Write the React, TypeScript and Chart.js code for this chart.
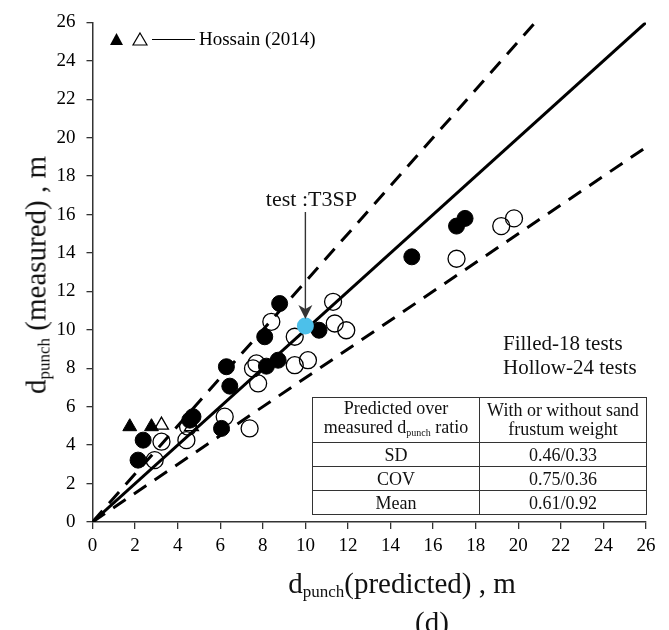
import React, { useEffect, useRef } from "react";
import { Chart, registerables } from "chart.js";
Chart.register(...registerables);

// ---- data ----
const filledX = [2.14, 2.38, 4.57, 4.72, 6.06, 6.29, 6.45, 8.09, 8.17, 8.72, 8.79, 10.64, 15.0, 17.1, 17.5];
const filledY = [3.22, 4.26, 5.3, 5.48, 4.87, 8.08, 7.07, 9.64, 8.11, 8.42, 11.37, 9.98, 13.8, 15.4, 15.8];
const hollowX = [2.92, 3.24, 4.41, 4.49, 6.21, 7.38, 7.54, 7.7, 7.78, 8.4, 9.5, 9.5, 10.12, 11.3, 11.38, 11.92, 17.1, 19.2, 19.8];
const hollowY = [3.22, 4.18, 4.26, 4.96, 5.48, 4.87, 7.99, 8.25, 7.21, 10.42, 9.64, 8.16, 8.42, 11.46, 10.33, 9.98, 13.7, 15.4, 15.8];
const triFilledX = [1.75, 2.77];
const triFilledY = [4.96, 4.96];
const triHollowX = [3.24, 4.65];
const triHollowY = [5.04, 4.96];
const testX = [10.0];
const testY = [10.2];
const testLabel = "test :T3SP";
const lineEqualX = [0, 26];
const lineEqualY = [0, 26];
const lineUpperX = [0, 20.8];
const lineUpperY = [0, 26];
const lineLowerX = [0, 26];
const lineLowerY = [0, 19.5];
const axisMin = 0;
const axisMax = 26;
const axisStep = 2;
const legendText = "Hossain (2014)";
const tableRows = [
  ["SD", "0.46/0.33"],
  ["COV", "0.75/0.36"],
  ["Mean", "0.61/0.92"],
];

const pts = (xs: number[], ys: number[]) => xs.map((x, i) => ({ x, y: ys[i] }));
const FONT = "'Liberation Serif', 'Times New Roman', serif";

const overlayPlugin = {
  id: "overlay",
  afterDatasetsDraw(chart: any) {
    const ctx = chart.ctx;
    const xs = chart.scales.x;
    const ys = chart.scales.y;
    ctx.save();
    // arrow + label to test point
    const cx = xs.getPixelForValue(testX[0]);
    const cy = ys.getPixelForValue(testY[0]);
    ctx.strokeStyle = "#333";
    ctx.fillStyle = "#333";
    ctx.lineWidth = 1.4;
    ctx.beginPath();
    ctx.moveTo(cx, cy - 114);
    ctx.lineTo(cx, cy - 16);
    ctx.stroke();
    ctx.beginPath();
    ctx.moveTo(cx, cy - 7);
    ctx.lineTo(cx - 7, cy - 21);
    ctx.lineTo(cx, cy - 17);
    ctx.lineTo(cx + 7, cy - 21);
    ctx.closePath();
    ctx.fill();
    ctx.fillStyle = "#111";
    ctx.font = `22px ${FONT}`;
    ctx.textAlign = "center";
    ctx.textBaseline = "alphabetic";
    ctx.fillText(testLabel, cx + 6, cy - 120);

    // legend top-left
    const lx = 110;
    const ly = 39;
    ctx.fillStyle = "#000";
    ctx.beginPath();
    ctx.moveTo(lx + 6.5, ly - 6);
    ctx.lineTo(lx + 13, ly + 6);
    ctx.lineTo(lx, ly + 6);
    ctx.closePath();
    ctx.fill();
    ctx.lineWidth = 1.2;
    ctx.strokeStyle = "#000";
    ctx.beginPath();
    ctx.moveTo(lx + 30, ly - 6);
    ctx.lineTo(lx + 37, ly + 6);
    ctx.lineTo(lx + 23, ly + 6);
    ctx.closePath();
    ctx.stroke();
    ctx.beginPath();
    ctx.moveTo(lx + 42, ly + 0.5);
    ctx.lineTo(lx + 85, ly + 0.5);
    ctx.stroke();
    ctx.font = `19px ${FONT}`;
    ctx.textAlign = "left";
    ctx.fillText(legendText, lx + 89, ly + 6);
    ctx.restore();
  },
};

export default function App() {
  const ref = useRef<HTMLCanvasElement>(null);
  useEffect(() => {
    document.body.style.margin = "0";
    const chart = new Chart(ref.current!, {
      type: "scatter",
      data: {
        datasets: [
          {
            label: "test",
            data: pts(testX, testY),
            backgroundColor: "#4cc0ea",
            borderColor: "#4cc0ea",
            borderWidth: 0,
            pointRadius: 8.5,
            order: 0,
          },
          {
            label: "filled",
            data: pts(filledX, filledY),
            backgroundColor: "#000",
            borderColor: "#000",
            borderWidth: 1,
            pointRadius: 8,
            order: 1,
          },
          {
            label: "hollow",
            data: pts(hollowX, hollowY),
            backgroundColor: "rgba(0,0,0,0)",
            borderColor: "#000",
            borderWidth: 1.3,
            pointRadius: 8.5,
            order: 2,
          },
          {
            label: "triFilled",
            data: pts(triFilledX, triFilledY),
            pointStyle: "triangle",
            backgroundColor: "#000",
            borderColor: "#000",
            borderWidth: 1,
            pointRadius: 8,
            order: 1,
          },
          {
            label: "triHollow",
            data: pts(triHollowX, triHollowY),
            pointStyle: "triangle",
            backgroundColor: "rgba(0,0,0,0)",
            borderColor: "#000",
            borderWidth: 1.3,
            pointRadius: 8,
            order: 2,
          },
          {
            label: "equal",
            data: pts(lineEqualX, lineEqualY),
            showLine: true,
            borderColor: "#000",
            borderWidth: 3,
            pointRadius: 0,
            order: 5,
          } as any,
          {
            label: "upper",
            data: pts(lineUpperX, lineUpperY),
            showLine: true,
            borderColor: "#000",
            borderWidth: 3,
            borderDash: [15, 10],
            pointRadius: 0,
            order: 5,
          } as any,
          {
            label: "lower",
            data: pts(lineLowerX, lineLowerY),
            showLine: true,
            borderColor: "#000",
            borderWidth: 3,
            borderDash: [15, 10],
            pointRadius: 0,
            order: 5,
          } as any,
        ],
      },
      options: {
        animation: false,
        responsive: false,
        events: [],
        layout: { padding: { left: 0, top: 22, right: 23, bottom: 0 } },
        plugins: { legend: { display: false }, tooltip: { enabled: false } },
        scales: {
          x: {
            type: "linear",
            min: axisMin,
            max: axisMax,
            ticks: { stepSize: axisStep, color: "#000", font: { family: FONT, size: 19 }, padding: 6, maxRotation: 0 },
            grid: { drawOnChartArea: false, drawTicks: true, tickLength: 7, color: "#333", lineWidth: 1.3 },
            border: { display: true, color: "#333", width: 1.5 },
            afterFit: (s: any) => { s.height = 108; },
          },
          y: {
            type: "linear",
            min: axisMin,
            max: axisMax,
            ticks: { stepSize: axisStep, color: "#000", font: { family: FONT, size: 19 }, padding: 11 },
            grid: { drawOnChartArea: false, drawTicks: true, tickLength: 6, color: "#333", lineWidth: 1.3 },
            border: { display: true, color: "#333", width: 1.5 },
            afterFit: (s: any) => { s.width = 92.5; },
          },
        },
      },
      plugins: [overlayPlugin],
    } as any);
    return () => chart.destroy();
  }, []);

  const cell: React.CSSProperties = {
    border: "1.5px solid #333",
    textAlign: "center",
    padding: 0,
    lineHeight: "22px",
    whiteSpace: "nowrap",
  };
  return (
    <div style={{ position: "fixed", left: 0, top: 0, width: 669, height: 630, background: "#fff", overflow: "hidden", fontFamily: FONT, color: "#111" }}>
      <canvas ref={ref} width={669} height={630} style={{ position: "absolute", left: 0, top: 0, width: 669, height: 630 }} />
      {/* y axis title */}
      <div style={{ position: "absolute", left: 37, top: 275, transform: "translate(-50%, -50%) rotate(-90deg)", whiteSpace: "nowrap", fontSize: 29, lineHeight: 1 }}>
        d<sub style={{ fontSize: 17, verticalAlign: "-4px" }}>punch</sub> (measured) , m
      </div>
      {/* x axis title */}
      <div style={{ position: "absolute", left: 402, top: 584, transform: "translate(-50%, -50%)", whiteSpace: "nowrap", fontSize: 29, lineHeight: 1 }}>
        d<sub style={{ fontSize: 17, verticalAlign: "-4px" }}>punch</sub>(predicted) , m
      </div>
      <div style={{ position: "absolute", left: 432, top: 608, transform: "translateX(-50%)", whiteSpace: "nowrap", fontSize: 29, lineHeight: 1 }}>
        (d)
      </div>
      {/* counts */}
      <div style={{ position: "absolute", left: 503, top: 331, fontSize: 21, lineHeight: "24px", whiteSpace: "nowrap" }}>
        <div>Filled-18 tests</div>
        <div>Hollow-24 tests</div>
      </div>
      {/* table */}
      <table style={{ position: "absolute", left: 312, top: 397, width: 334, borderCollapse: "collapse", fontSize: 18, fontFamily: FONT, tableLayout: "fixed" }}>
        <colgroup>
          <col style={{ width: 167 }} />
          <col style={{ width: 167 }} />
        </colgroup>
        <tbody>
          <tr style={{ height: 45 }}>
            <td style={{ ...cell, lineHeight: "19px" }}>
              Predicted over<br />measured d<sub style={{ fontSize: 10, verticalAlign: "-3px" }}>punch</sub> ratio
            </td>
            <td style={{ ...cell, lineHeight: "19px" }}>
              With or without sand<br />frustum weight
            </td>
          </tr>
          {tableRows.map((r) => (
            <tr key={r[0]} style={{ height: 24 }}>
              <td style={cell}>{r[0]}</td>
              <td style={cell}>{r[1]}</td>
            </tr>
          ))}
        </tbody>
      </table>
    </div>
  );
}
